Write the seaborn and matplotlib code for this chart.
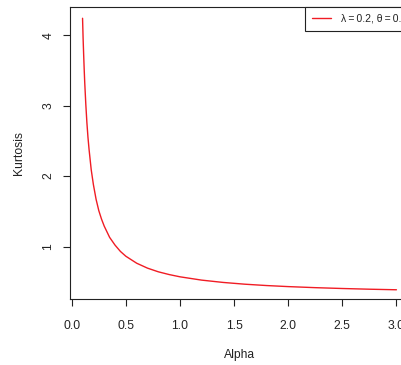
import matplotlib
matplotlib.use("Agg")
import matplotlib.pyplot as plt
import seaborn as sns
import pandas as pd

alpha = [0.100, 0.105, 0.110, 0.115, 0.120, 0.130, 0.140, 0.150, 0.160,
         0.180, 0.200, 0.225, 0.250, 0.275, 0.300, 0.350, 0.400, 0.450,
         0.500, 0.600, 0.700, 0.800, 0.900, 1.000, 1.200, 1.400, 1.600,
         1.800, 2.000, 2.250, 2.500, 2.750, 3.000]
kurtosis = [4.24, 3.96, 3.73, 3.52, 3.33, 3.02, 2.76, 2.55, 2.38,
            2.09, 1.88, 1.67, 1.51, 1.39, 1.29, 1.13, 1.02, 0.93,
            0.862, 0.763, 0.693, 0.641, 0.602, 0.570, 0.523, 0.490, 0.465,
            0.446, 0.431, 0.416, 0.404, 0.394, 0.386]
series_label = "λ\u2009=\u20090.2, θ\u2009=\u20090.5"
x_ticks = [0.0, 0.5, 1.0, 1.5, 2.0, 2.5, 3.0]
x_tick_labels = ["0.0", "0.5", "1.0", "1.5", "2.0", "2.5", "3.0"]
y_ticks = [1, 2, 3, 4]
y_tick_labels = ["1", "2", "3", "4"]

df = pd.DataFrame({"Alpha": alpha, "Kurtosis": kurtosis,
                   "series": [series_label] * len(alpha)})

sns.set_style("ticks")
plt.rcParams["font.family"] = ["Liberation Sans", "DejaVu Sans"]

fig = plt.figure(figsize=(4.02, 3.65), dpi=100)
ax = fig.add_axes([70 / 402, 66 / 365, 339 / 402, 292 / 365])

sns.lineplot(data=df, x="Alpha", y="Kurtosis", hue="series",
             palette=["#f01c24"], linewidth=1.0, ax=ax, legend=True)

ax.set_xlim(-0.016, 3.116)
ax.set_ylim(0.255, 4.40)
ax.set_xticks(x_ticks)
ax.set_xticklabels(x_tick_labels)
ax.set_yticks(y_ticks)
ax.set_yticklabels(y_tick_labels, rotation=90, va="center")

for s in ax.spines.values():
    s.set_visible(True)
    s.set_linewidth(0.8)
    s.set_color("#222222")

ax.tick_params(axis="both", direction="out", length=5.3, width=0.8,
               color="#222222", labelsize=8.7, labelcolor="#222222")
ax.tick_params(axis="x", pad=10)
ax.tick_params(axis="y", pad=6)

ax.set_xlabel("Alpha", fontsize=8.7, color="#222222")
ax.set_ylabel("Kurtosis", fontsize=8.7, color="#222222")
ax.xaxis.set_label_coords(0.5015, -0.170)
ax.yaxis.set_label_coords(-0.133, 0.5)

leg = ax.legend(loc="upper left", bbox_to_anchor=(0.693, 1.0),
                borderaxespad=0, frameon=True, fancybox=False,
                edgecolor="#222222", fontsize=7.5, handlelength=1.9,
                handletextpad=0.9, borderpad=0.65, framealpha=1)
leg.get_frame().set_linewidth(0.8)
for t in leg.get_texts():
    t.set_color("#222222")

fig.savefig("out.png", dpi=100)
